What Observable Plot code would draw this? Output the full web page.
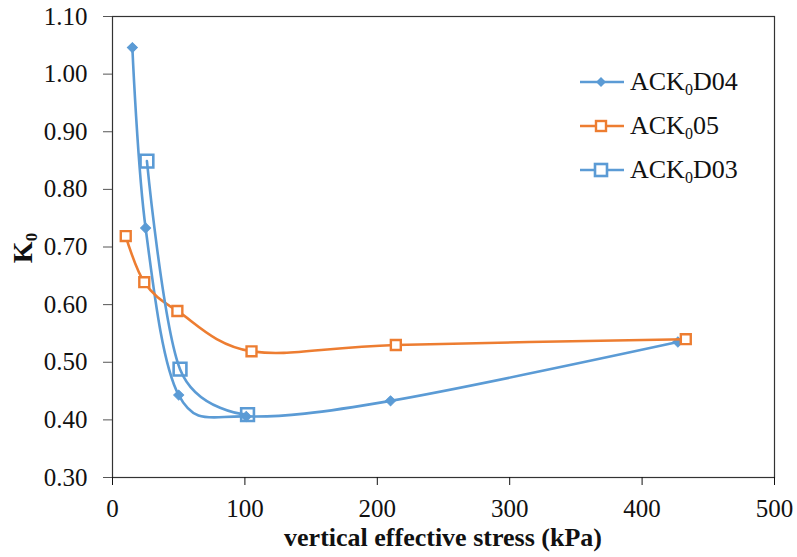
<!DOCTYPE html>
<html>
<head>
<meta charset="utf-8">
<script src="https://cdn.jsdelivr.net/npm/d3@7"></script>
<script src="https://cdn.jsdelivr.net/npm/@observablehq/plot@0.6"></script>
<style>
  html, body { margin: 0; padding: 0; background: #fff; }
  #wrap { position: relative; width: 797px; height: 557px; font-family: "Liberation Serif", "Times New Roman", serif; }
  #chart svg text { font-family: "Liberation Serif", "Times New Roman", serif; }
  #legend { position: absolute; left: 578px; top: 60px; }
  .row { display: flex; align-items: center; height: 44px; }
  .row svg { margin-right: 4px; }
  .row span { font-size: 26px; color: #111; }
  .row sub { font-size: 16px; vertical-align: -5px; line-height: 0; }
</style>
</head>
<body>
<div id="wrap">
  <div id="chart"></div>
  <div id="legend"></div>
</div>
<script>
// ---- data ----
const seriesNames = ["ACK0D04", "ACK0D05", "ACK0D03"];
const stressD04 = [15, 25, 50, 101, 210, 427];
const k0D04 = [1.046, 0.733, 0.443, 0.406, 0.433, 0.535];
const stressD05 = [10, 24, 49, 105, 214, 433];
const k0D05 = [0.719, 0.639, 0.589, 0.519, 0.53, 0.54];
const stressD03 = [26, 51, 102];
const k0D03 = [0.849, 0.488, 0.409];
const xTicks = [0, 100, 200, 300, 400, 500];
const yTicks = [0.30, 0.40, 0.50, 0.60, 0.70, 0.80, 0.90, 1.00, 1.10];

const blue = "#5B9BD5";
const orange = "#ED7D31";
const serif = "Liberation Serif";

const d04 = stressD04.map((x, i) => ({x, y: k0D04[i]}));
const d05 = stressD05.map((x, i) => ({x, y: k0D05[i]}));
const d03 = stressD03.map((x, i) => ({x, y: k0D03[i]}));

const chart = Plot.plot({
  width: 797,
  height: 557,
  marginLeft: 112,
  marginRight: 23,
  marginTop: 16,
  marginBottom: 80,
  style: {fontFamily: serif, fontSize: "25px", color: "#111", background: "white", overflow: "visible"},
  x: {domain: [0, 500]},
  y: {domain: [0.3, 1.1]},
  marks: [
    Plot.frame({stroke: "#333", strokeWidth: 1.2}),
    Plot.axisX({ticks: xTicks, tickFormat: "d", tickSize: 8, tickPadding: 14, label: null, stroke: "#111", fontFamily: serif, fontSize: 25}),
    Plot.axisY({ticks: yTicks, tickFormat: ".2f", tickSize: 9, tickPadding: 16, label: null, stroke: "#555", fontFamily: serif, fontSize: 25}),
    Plot.line(d04, {x: "x", y: "y", stroke: blue, strokeWidth: 2.6, curve: "cardinal"}),
    Plot.dot(d04, {x: "x", y: "y", symbol: "square", r: 4, rotate: 45, fill: blue, stroke: blue, strokeWidth: 1}),
    Plot.line(d05, {x: "x", y: "y", stroke: orange, strokeWidth: 2.6, curve: "cardinal"}),
    Plot.dot(d05, {x: "x", y: "y", symbol: "square", r: 5.6, fill: "white", stroke: orange, strokeWidth: 2.4}),
    Plot.line(d03, {x: "x", y: "y", stroke: blue, strokeWidth: 2.6, curve: "cardinal"}),
    Plot.dot(d03, {x: "x", y: "y", symbol: "square", r: 7.2, fill: "none", stroke: blue, strokeWidth: 2.6})
  ]
});
document.getElementById("chart").appendChild(chart);

// axis titles
const svg = d3.select(chart);
svg.append("text")
  .attr("x", 443).attr("y", 546)
  .attr("text-anchor", "middle")
  .attr("font-weight", "bold")
  .attr("font-size", "26px")
  .attr("fill", "#111")
  .text("vertical effective stress (kPa)");
const yl = svg.append("text")
  .attr("transform", "translate(32,248) rotate(-90)")
  .attr("text-anchor", "middle")
  .attr("font-weight", "bold")
  .attr("font-size", "28px")
  .attr("fill", "#111");
yl.append("tspan").text("K");
yl.append("tspan").attr("font-size", "17px").attr("dy", "5").text("0");

// legend
const legendItems = [
  {prefix: "ACK", sub: "0", suffix: "D04", color: blue, marker: "diamond"},
  {prefix: "ACK", sub: "0", suffix: "05", color: orange, marker: "small"},
  {prefix: "ACK", sub: "0", suffix: "D03", color: blue, marker: "big"}
];
const legend = d3.select("#legend");
legendItems.forEach(it => {
  const row = legend.append("div").attr("class", "row");
  const s = row.append("svg").attr("width", 48).attr("height", 20);
  s.append("line").attr("x1", 2).attr("x2", 46).attr("y1", 10).attr("y2", 10)
    .attr("stroke", it.color).attr("stroke-width", 2.6);
  if (it.marker === "diamond") {
    s.append("path").attr("d", "M23,5L28,10L23,15L18,10Z").attr("fill", it.color);
  } else if (it.marker === "small") {
    s.append("rect").attr("x", 18).attr("y", 5).attr("width", 10).attr("height", 10)
      .attr("fill", "white").attr("stroke", it.color).attr("stroke-width", 2.4);
  } else {
    s.append("rect").attr("x", 17).attr("y", 4).attr("width", 12).attr("height", 12)
      .attr("fill", "white").attr("stroke", it.color).attr("stroke-width", 2.6);
  }
  const t = row.append("span");
  t.append("span").text(it.prefix);
  t.append("sub").text(it.sub);
  t.append("span").text(it.suffix);
});
</script>
</body>
</html>
